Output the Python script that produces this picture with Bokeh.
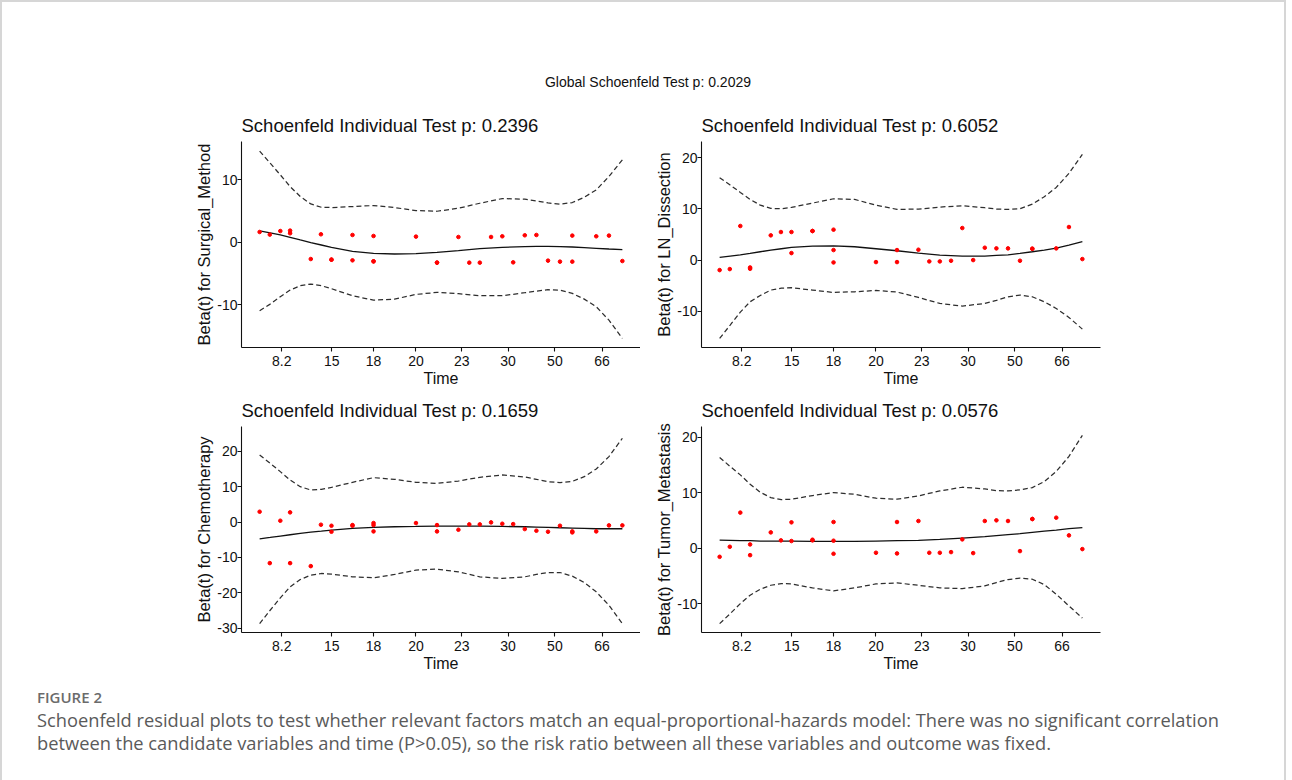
from bokeh.plotting import figure
from bokeh.models import FixedTicker, Range1d, Div
from bokeh.layouts import column, row
from bokeh.embed import file_html
from bokeh.resources import INLINE

# ---- data (time on the transformed/KM scale) ----
time_ticks = [0.061, 0.199, 0.314, 0.431, 0.557, 0.685, 0.814, 0.944]
time_tick_labels = ["8.2", "15", "18", "20", "23", "30", "50", "66"]

km_time = [0.000, 0.028, 0.057, 0.084, 0.084, 0.141, 0.169, 0.198, 0.198, 0.256,
           0.256, 0.314, 0.314, 0.314, 0.431, 0.489, 0.489, 0.548, 0.578, 0.607,
           0.638, 0.669, 0.699, 0.731, 0.763, 0.795, 0.828, 0.862, 0.862, 0.928,
           0.963, 1.000]

surg_resid = [1.65, 1.23, 1.80, 1.87, 1.44, -2.67, 1.28, -2.77, -2.77, 1.17,
              -2.88, 1.01, -3.04, -3.04, 0.91, -3.25, -3.25, 0.85, -3.25, -3.25,
              0.85, 0.96, -3.20, 1.12, 1.17, -2.93, -3.09, 1.07, -3.09, 0.96,
              1.07, -2.99]
ln_resid = [-1.96, -1.76, 6.67, -1.44, -1.70, 4.84, 5.49, 5.49, 1.37, 5.69,
            5.69, 5.95, 1.96, -0.46, -0.39, 1.96, -0.39, 2.03, -0.26, -0.26,
            -0.13, 6.27, 0.00, 2.42, 2.29, 2.29, -0.13, 2.22, 2.22, 2.29,
            6.47, 0.20]
chemo_resid = [2.92, -11.60, 0.38, 2.74, -11.60, -12.45, -0.75, -1.04, -2.74, -0.85,
               -1.04, -0.28, -0.85, -2.64, -0.28, -0.85, -2.64, -2.17, -0.66, -0.66,
               -0.09, -0.47, -0.57, -1.98, -2.45, -2.74, -1.04, -2.64, -2.92, -2.64,
               -0.94, -0.94]
tumor_resid = [-1.57, 0.24, 6.39, 0.66, -1.27, 2.83, 1.39, 4.64, 1.27, 1.51,
               1.39, 4.70, 1.33, -1.02, -0.84, 4.70, -0.96, 4.88, -0.84, -0.84,
               -0.72, 1.57, -0.90, 4.88, 5.00, 4.88, -0.54, 5.24, 5.24, 5.48,
               2.29, -0.18]

curve_km = [0.000, 0.029, 0.057, 0.084, 0.112, 0.141, 0.170, 0.198, 0.256, 0.314,
            0.372, 0.431, 0.489, 0.548, 0.607, 0.669, 0.731, 0.763, 0.795, 0.828,
            0.862, 0.895, 0.928, 0.963, 1.000]

surg_fit = [1.81, 1.49, 1.17, 0.80, 0.37, -0.05, -0.43, -0.80, -1.44, -1.76,
            -1.87, -1.81, -1.60, -1.33, -1.01, -0.80, -0.69, -0.64, -0.64, -0.69,
            -0.75, -0.85, -0.96, -1.07, -1.17]
surg_upper = [14.56, 12.64, 10.77, 8.91, 7.31, 6.13, 5.60, 5.55, 5.71, 5.87,
              5.55, 5.07, 4.96, 5.44, 6.24, 6.99, 6.88, 6.61, 6.29, 6.08,
              6.35, 7.20, 8.37, 10.51, 13.17]
surg_lower = [-10.93, -9.87, -8.69, -7.63, -6.93, -6.67, -6.93, -7.41, -8.53, -9.23,
              -9.07, -8.32, -8.00, -8.21, -8.53, -8.53, -8.05, -7.79, -7.57, -7.63,
              -8.16, -9.07, -10.29, -12.43, -15.36]

ln_fit = [0.52, 0.78, 1.04, 1.30, 1.63, 1.96, 2.22, 2.48, 2.74, 2.80,
          2.61, 2.22, 1.83, 1.37, 0.98, 0.78, 0.78, 0.91, 1.04, 1.30,
          1.63, 1.96, 2.35, 2.94, 3.59]
ln_upper = [16.11, 14.68, 13.24, 11.87, 10.76, 10.11, 10.05, 10.31, 11.15, 12.00,
            11.87, 10.76, 9.92, 9.98, 10.37, 10.63, 10.24, 9.98, 9.92, 10.05,
            10.96, 12.39, 14.22, 16.96, 20.68]
ln_lower = [-15.33, -12.72, -10.18, -8.15, -6.92, -5.87, -5.48, -5.41, -5.87, -6.33,
            -6.20, -5.94, -6.26, -7.31, -8.48, -9.00, -8.48, -7.89, -7.18, -6.85,
            -7.18, -8.15, -9.46, -11.22, -13.50]

chemo_fit = [-4.72, -4.34, -3.96, -3.58, -3.21, -2.83, -2.55, -2.26, -1.79, -1.51,
             -1.32, -1.23, -1.13, -1.13, -1.13, -1.23, -1.32, -1.42, -1.51, -1.60,
             -1.70, -1.79, -1.89, -1.89, -1.89]
chemo_upper = [18.96, 16.60, 14.25, 11.89, 10.00, 9.06, 9.25, 9.81, 11.23, 12.55,
               12.08, 11.23, 10.94, 11.60, 12.64, 13.30, 12.74, 12.08, 11.42, 11.13,
               11.51, 12.83, 15.00, 18.49, 23.68]
chemo_lower = [-28.68, -24.91, -21.42, -18.30, -16.23, -15.00, -14.53, -14.72, -15.47, -15.75,
               -14.81, -13.58, -13.30, -14.06, -15.47, -15.94, -15.47, -14.81, -14.25, -14.25,
               -15.28, -17.08, -19.72, -23.49, -28.68]

tumor_fit = [1.45, 1.39, 1.33, 1.33, 1.27, 1.27, 1.27, 1.27, 1.20, 1.20,
             1.20, 1.27, 1.33, 1.39, 1.57, 1.81, 2.05, 2.23, 2.41, 2.59,
             2.83, 3.07, 3.25, 3.49, 3.67]
tumor_upper = [16.33, 14.70, 13.19, 11.51, 10.06, 9.10, 8.73, 8.80, 9.46, 10.00,
               9.70, 8.98, 8.80, 9.40, 10.30, 10.96, 10.66, 10.36, 10.30, 10.48,
               10.90, 11.99, 13.80, 16.51, 20.30]
tumor_lower = [-13.61, -11.81, -10.00, -8.49, -7.41, -6.69, -6.39, -6.45, -7.17, -7.71,
               -7.17, -6.45, -6.27, -6.69, -7.17, -7.29, -6.81, -6.20, -5.66, -5.42,
               -5.60, -6.57, -8.31, -10.42, -12.59]

global_title = "Global Schoenfeld Test p: 0.2029"
panel_titles = ["Schoenfeld Individual Test p: 0.2396", "Schoenfeld Individual Test p: 0.6052",
                "Schoenfeld Individual Test p: 0.1659", "Schoenfeld Individual Test p: 0.0576"]
panel_ylabels = ["Beta(t) for Surgical_Method", "Beta(t) for LN_Dissection",
                 "Beta(t) for Chemotherapy", "Beta(t) for Tumor_Metastasis"]

FONT = "Liberation Sans"
FRAME_W = 399


def panel(title, ylabel, resid, fit, upper, lower, yr, yticks, left_b, right_b):
    p = figure(width=left_b + FRAME_W + right_b, height=285,
               x_range=Range1d(-0.05, 1.05), y_range=Range1d(*yr),
               output_backend="svg", toolbar_location=None,
               min_border_left=left_b, min_border_right=right_b,
               min_border_top=34, min_border_bottom=45)
    p.outline_line_color = None
    p.xgrid.visible = False
    p.ygrid.visible = False
    p.background_fill_color = "white"
    p.border_fill_color = "white"

    p.title.text = title
    p.title.text_font = FONT
    p.title.text_font_size = "18.5px"
    p.title.text_font_style = "normal"
    p.title.text_color = "#111111"
    p.title.align = "left"
    p.title.standoff = 11

    for ax in (p.xaxis[0], p.yaxis[0]):
        ax.axis_line_color = "#111111"
        ax.axis_line_width = 1.1
        ax.major_tick_line_color = "#111111"
        ax.major_tick_line_width = 1.1
        ax.major_tick_in = 0
        ax.major_tick_out = 4
        ax.minor_tick_line_color = None
        ax.major_label_text_font = FONT
        ax.major_label_text_font_size = "14px"
        ax.major_label_text_color = "#111111"
        ax.axis_label_text_font = FONT
        ax.axis_label_text_font_style = "normal"
        ax.axis_label_text_color = "#111111"

    xa = p.xaxis[0]
    xa.ticker = FixedTicker(ticks=time_ticks)
    xa.major_label_overrides = {t: l for t, l in zip(time_ticks, time_tick_labels)}
    xa.axis_label = "Time"
    xa.axis_label_text_font_size = "16px"
    xa.major_label_standoff = 4
    xa.axis_label_standoff = 1

    ya = p.yaxis[0]
    ya.ticker = FixedTicker(ticks=yticks)
    ya.major_label_overrides = {t: str(t) for t in yticks}
    ya.axis_label = ylabel
    ya.axis_label_text_font_size = "16.5px"
    ya.major_label_standoff = 0
    ya.axis_label_standoff = 1

    p.line(curve_km, upper, line_color="#2e2e2e", line_width=1.25, line_dash="5 3")
    p.line(curve_km, lower, line_color="#2e2e2e", line_width=1.25, line_dash="5 3")
    p.line(curve_km, fit, line_color="#111111", line_width=1.3)
    p.scatter(km_time, resid, size=3.6, fill_color="#ff0000", line_color="#ff0000")
    return p


p1 = panel(panel_titles[0], panel_ylabels[0], surg_resid, surg_fit, surg_upper, surg_lower,
           (-16.8, 16.1), [-10, 0, 10], 239, 0)
p2 = panel(panel_titles[1], panel_ylabels[1], ln_resid, ln_fit, ln_upper, ln_lower,
           (-17.1, 23.2), [-10, 0, 10, 20], 61, 10)
p3 = panel(panel_titles[2], panel_ylabels[2], chemo_resid, chemo_fit, chemo_upper, chemo_lower,
           (-31.2, 27.0), [-30, -20, -10, 0, 10, 20], 239, 0)
p4 = panel(panel_titles[3], panel_ylabels[3], tumor_resid, tumor_fit, tumor_upper, tumor_lower,
           (-15.2, 21.9), [-10, 0, 10, 20], 61, 10)

top = Div(width=1272, height=95,
          text=('<div style="margin:0; padding-top:67px; padding-left:10px; width:1272px; text-align:center; '
                "font-family:'Liberation Sans'; font-size:14px; line-height:17px; color:#111;\">"
                + global_title + "</div>"))

caption = Div(width=1272, height=97,
              text=("<div style=\"padding-left:30px; padding-top:6px; font-family:'Open Sans'; margin:0;\">"
                    "<div style=\"font-size:15px; font-weight:600; color:#6b6b6b; line-height:18px;\">FIGURE 2</div>"
                    "<div style=\"font-size:18.3px; color:#5a5a5a; line-height:22.5px; margin-top:3px;\">"
                    "Schoenfeld residual plots to test whether relevant factors match an equal-proportional-hazards model: "
                    "There was no significant correlation<br>between the candidate variables and time (P&gt;0.05), "
                    "so the risk ratio between all these variables and outcome was fixed.</div></div>"))

layout = column(top, row(p1, p2), row(p3, p4), caption,
                styles={"border-top": "2px solid #d6d6d6",
                        "border-left": "2px solid #d6d6d6",
                        "border-right": "2px solid #d6d6d6"})

open("out.html", "w").write(file_html(layout, INLINE))
